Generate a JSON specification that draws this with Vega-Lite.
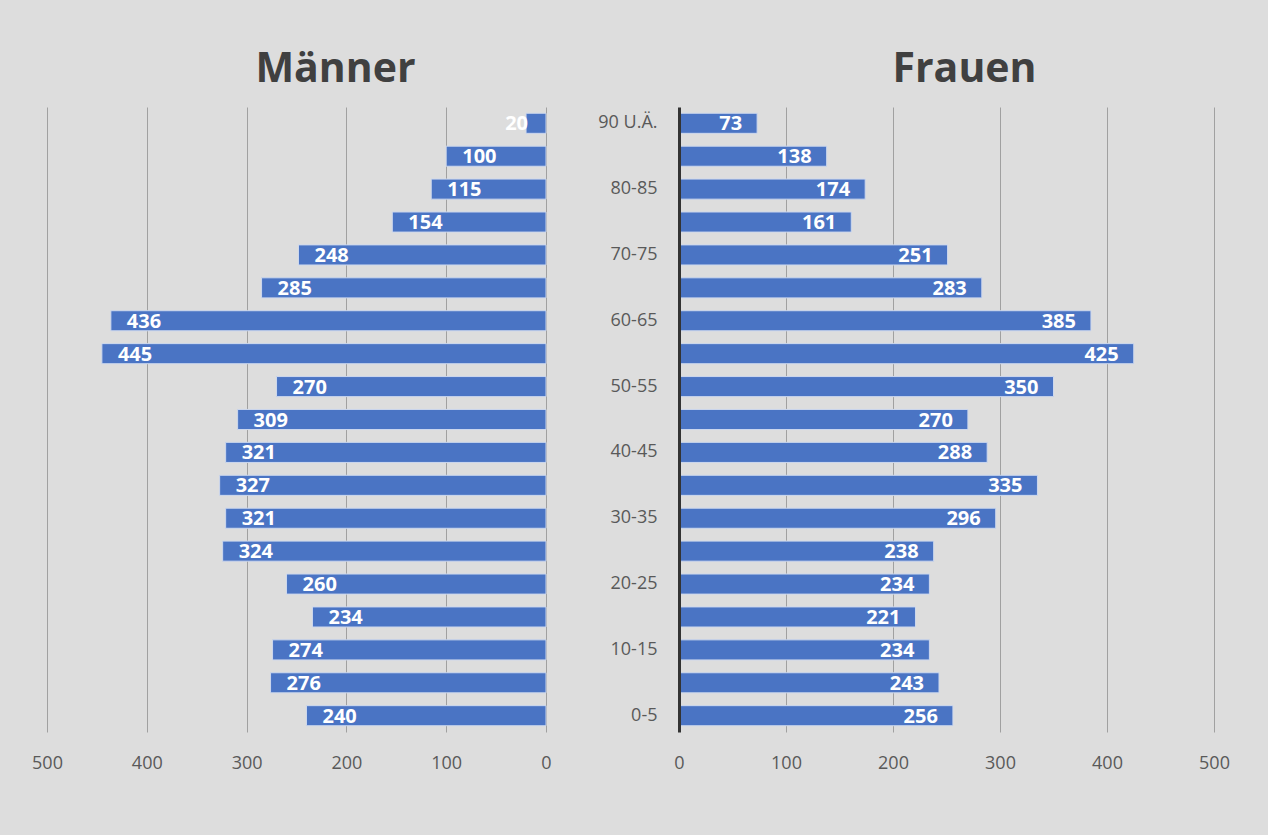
{
  "$schema": "https://vega.github.io/schema/vega-lite/v6.json",
  "background": "#dddddd",
  "padding": {"left": 31, "top": 49, "right": 38, "bottom": 63},
  "data": {"values": [
    {"Alter": "90 U.Ä.", "Männer": 20, "Frauen": 73},
    {"Alter": "85-90", "Männer": 100, "Frauen": 138},
    {"Alter": "80-85", "Männer": 115, "Frauen": 174},
    {"Alter": "75-80", "Männer": 154, "Frauen": 161},
    {"Alter": "70-75", "Männer": 248, "Frauen": 251},
    {"Alter": "65-70", "Männer": 285, "Frauen": 283},
    {"Alter": "60-65", "Männer": 436, "Frauen": 385},
    {"Alter": "55-60", "Männer": 445, "Frauen": 425},
    {"Alter": "50-55", "Männer": 270, "Frauen": 350},
    {"Alter": "45-50", "Männer": 309, "Frauen": 270},
    {"Alter": "40-45", "Männer": 321, "Frauen": 288},
    {"Alter": "35-40", "Männer": 327, "Frauen": 335},
    {"Alter": "30-35", "Männer": 321, "Frauen": 296},
    {"Alter": "25-30", "Männer": 324, "Frauen": 238},
    {"Alter": "20-25", "Männer": 260, "Frauen": 234},
    {"Alter": "15-20", "Männer": 234, "Frauen": 221},
    {"Alter": "10-15", "Männer": 274, "Frauen": 234},
    {"Alter": "5-10", "Männer": 276, "Frauen": 243},
    {"Alter": "0-5", "Männer": 240, "Frauen": 256}
  ]},
  "config": {
    "view": {"stroke": null},
    "font": "Open Sans",
    "axis": {"labelFont": "Open Sans", "labelFontSize": 18, "labelColor": "#595959", "gridColor": "#a0a0a0", "gridWidth": 1, "gridOpacity": 1, "labelFlush": false},
    "title": {"font": "Open Sans", "fontSize": 41, "fontWeight": "bold", "color": "#404040"}
  },
  "spacing": 17,
  "hconcat": [
    {
      "width": 499,
      "height": 625,
      "title": {"text": "Männer", "anchor": "middle", "dx": 39, "offset": 16},
      "encoding": {
        "y": {"field": "Alter", "type": "nominal", "sort": null, "axis": null,
              "scale": {"paddingInner": 0.39, "paddingOuter": 0.19}},
        "x": {"field": "Männer", "type": "quantitative",
              "scale": {"domain": [0, 500], "reverse": true, "nice": false},
              "axis": {"values": [0, 100, 200, 300, 400, 500], "title": null, "domain": false, "ticks": false, "labelPadding": 22, "grid": true}}
      },
      "layer": [
        {"mark": {"type": "bar", "color": "#4a74c4", "stroke": "#cdd8ee", "strokeWidth": 1}},
        {"transform": [{"filter": "datum['Männer'] >= 50"}],
         "mark": {"type": "text", "align": "left", "baseline": "middle", "dx": 16, "dy": 1, "color": "white", "fontWeight": "bold", "fontSize": 20, "font": "Open Sans"},
         "encoding": {"text": {"field": "Männer", "type": "quantitative"}}},
        {"transform": [{"filter": "datum['Männer'] < 50"}],
         "mark": {"type": "text", "align": "right", "baseline": "middle", "dx": 2, "dy": 1, "color": "white", "fontWeight": "bold", "fontSize": 20, "font": "Open Sans"},
         "encoding": {"text": {"field": "Männer", "type": "quantitative"}}}
      ]
    },
    {
      "width": 535,
      "height": 625,
      "title": {"text": "Frauen", "anchor": "middle", "dx": 18, "offset": 16},
      "encoding": {
        "y": {"field": "Alter", "type": "nominal", "sort": null,
              "scale": {"paddingInner": 0.39, "paddingOuter": 0.19},
              "axis": {"title": null, "values": ["90 U.Ä.", "80-85", "70-75", "60-65", "50-55", "40-45", "30-35", "20-25", "10-15", "0-5"],
                       "ticks": false, "domain": true, "domainColor": "#333333", "domainWidth": 3, "labelPadding": 22, "minExtent": 110, "maxExtent": 110, "zindex": 2}},
        "x": {"field": "Frauen", "type": "quantitative",
              "scale": {"domain": [0, 500], "nice": false},
              "axis": {"values": [0, 100, 200, 300, 400, 500], "title": null, "domain": false, "ticks": false, "labelPadding": 22, "grid": true, "gridColor": {"condition": {"test": "datum.value === 0", "value": "transparent"}, "value": "#a0a0a0"}}}
      },
      "layer": [
        {"mark": {"type": "bar", "color": "#4a74c4", "stroke": "#cdd8ee", "strokeWidth": 1}},
        {"mark": {"type": "text", "align": "right", "baseline": "middle", "dx": -15, "dy": 1, "color": "white", "fontWeight": "bold", "fontSize": 20, "font": "Open Sans"},
         "encoding": {"text": {"field": "Frauen", "type": "quantitative"}}}
      ]
    }
  ]
}
